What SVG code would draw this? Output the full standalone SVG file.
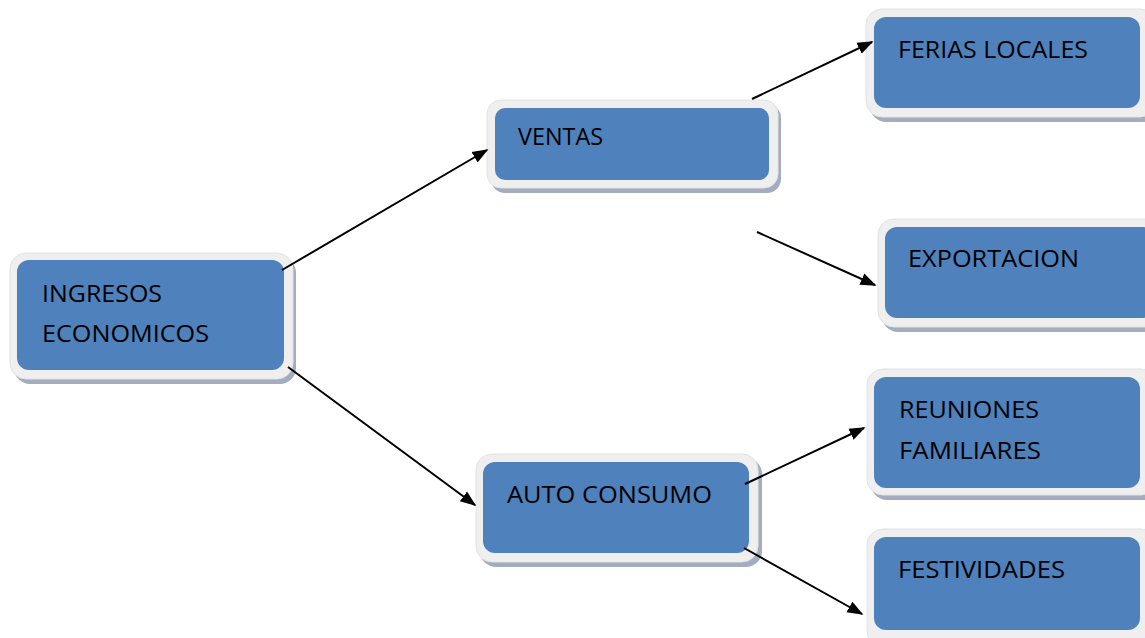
<svg xmlns="http://www.w3.org/2000/svg" width="1145" height="638" viewBox="0 0 1145 638">
<style>
.sh{fill:#a3adbf}
.fr{fill:#efefef;stroke:#e2e2e2;stroke-width:1}
.bx{fill:#4f81bd}
.t{font-family:"Open Sans","Liberation Sans",sans-serif;font-size:23px;fill:#000}
.c{stroke:#000;stroke-width:2;fill:none;marker-end:url(#ah)}
</style>
<defs>
<marker id="ah" viewBox="0 0 10 10" refX="9" refY="5" markerWidth="8" markerHeight="8" markerUnits="strokeWidth" orient="auto">
<path d="M0,1.2 L10,5 L0,8.8 z" fill="#000"/>
</marker>
</defs>
<rect width="1145" height="638" fill="#fff"/>
<g id="ingresos">
<rect class="sh" x="14" y="257" width="282" height="127" rx="16"/>
<rect class="fr" x="10" y="253" width="283" height="126" rx="16"/>
<rect class="bx" x="17" y="260" width="267" height="110" rx="12"/>
<text class="t" x="42" y="302" textLength="120" lengthAdjust="spacingAndGlyphs">INGRESOS</text>
<text class="t" x="42" y="342" textLength="167" lengthAdjust="spacingAndGlyphs">ECONOMICOS</text>
</g>
<g id="ventas">
<rect class="sh" x="491" y="104" width="290" height="89" rx="14"/>
<rect class="fr" x="487" y="100" width="291" height="88" rx="14"/>
<rect class="bx" x="495" y="108" width="274" height="72" rx="10"/>
<text class="t" x="518" y="145" textLength="85" lengthAdjust="spacingAndGlyphs">VENTAS</text>
</g>
<g id="ferias">
<rect class="sh" x="870" y="13" width="290" height="109" rx="16"/>
<rect class="fr" x="866" y="9" width="290" height="108" rx="16"/>
<rect class="bx" x="874" y="17" width="266" height="91" rx="12"/>
<text class="t" x="898" y="58" textLength="190" lengthAdjust="spacingAndGlyphs">FERIAS LOCALES</text>
</g>
<g id="exportacion">
<rect class="sh" x="882" y="223" width="290" height="109" rx="16"/>
<rect class="fr" x="878" y="219" width="290" height="108" rx="16"/>
<rect class="bx" x="885" y="227" width="270" height="91" rx="12"/>
<text class="t" x="908" y="267" textLength="171" lengthAdjust="spacingAndGlyphs">EXPORTACION</text>
</g>
<g id="reuniones">
<rect class="sh" x="871" y="373" width="290" height="127" rx="16"/>
<rect class="fr" x="867" y="369" width="290" height="126" rx="16"/>
<rect class="bx" x="874" y="377" width="266" height="111" rx="12"/>
<text class="t" x="899" y="418" textLength="140" lengthAdjust="spacingAndGlyphs">REUNIONES</text>
<text class="t" x="899" y="459" textLength="142" lengthAdjust="spacingAndGlyphs">FAMILIARES</text>
</g>
<g id="autoconsumo">
<rect class="sh" x="480" y="458" width="282" height="109" rx="16"/>
<rect class="fr" x="476" y="454" width="282" height="108" rx="16"/>
<rect class="bx" x="483" y="462" width="266" height="91" rx="12"/>
<text class="t" x="507" y="503" textLength="205" lengthAdjust="spacingAndGlyphs">AUTO CONSUMO</text>
</g>
<g id="festividades">
<rect class="sh" x="871" y="533" width="290" height="120" rx="16"/>
<rect class="fr" x="867" y="529" width="290" height="118" rx="16"/>
<rect class="bx" x="874" y="537" width="266" height="93" rx="12"/>
<text class="t" x="898" y="578" textLength="167" lengthAdjust="spacingAndGlyphs">FESTIVIDADES</text>
</g>
<g id="connectors">
<line class="c" x1="282" y1="270" x2="487" y2="150"/>
<line class="c" x1="288" y1="367" x2="475" y2="505"/>
<line class="c" x1="752" y1="99" x2="872" y2="42"/>
<line class="c" x1="757" y1="232" x2="875" y2="285"/>
<line class="c" x1="745" y1="484" x2="864" y2="428"/>
<line class="c" x1="744" y1="548" x2="862" y2="614"/>
</g>
</svg>
